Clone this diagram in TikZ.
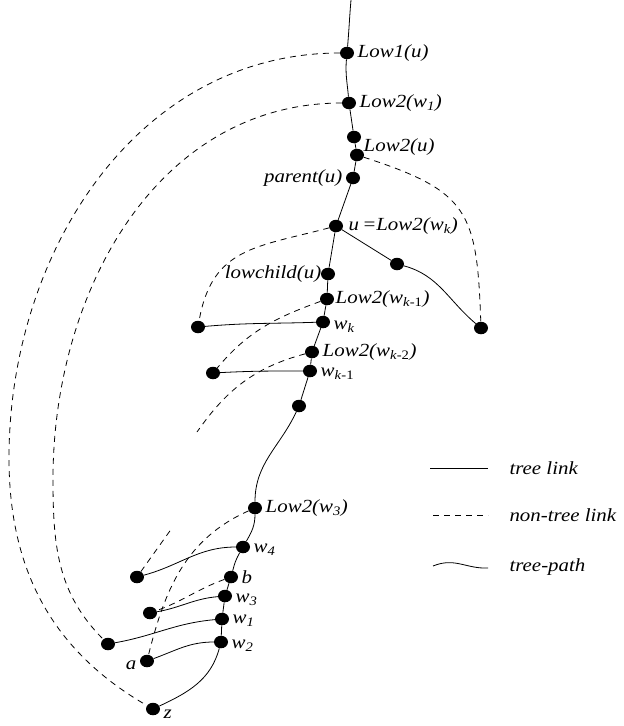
\documentclass[tikz,border=0pt]{standalone}
\usepackage{fontspec}
\setmainfont[FakeStretch=1.13]{Liberation Serif}
\usetikzlibrary{shapes.geometric, positioning}
\newcommand{\lsub}[1]{\textsubscript{#1}}
\tikzset
{%
point/.style={ellipse, fill=black, inner sep=0pt, minimum width=14pt, minimum height=12.5pt},
lab/.style={font=\fontsize{18.5}{21}\selectfont\itshape},
every label/.style={lab},
treelink/.style={line width=0.8pt},
treepath/.style={line width=0.8pt},
nontree/.style={line width=0.8pt, dash pattern=on 6pt off 5pt},
legtext/.style={lab, anchor=west}
}

\begin{document}
\begin{tikzpicture}[x=1pt, y=1pt]
	\useasboundingbox (0,0) rectangle (624,-726);

	% spine
	\coordinate (top) at (351,0);
	\node[point, label=right:{Low1(u)}] (lowone) at (347,-53) {};
	\node[point, label=right:{Low2(w\lsub{1})}] (lowtwowone) at (349,-103) {};
	\node[point] (anc) at (354,-137) {};
	\node[point, label={[yshift=8pt, label distance=-4pt]right:{Low2(u)}}] (lowtwou) at (357,-155) {};
	\node[point, label=left:{parent(u)}] (parent) at (353,-178) {};
	\node[point, label={[label distance=2pt]right:{u\,=Low2(w\lsub{k})}}] (u) at (336,-226) {};
	\node[point] (rmid) at (397,-264) {};
	\node[point] (rend) at (481,-328) {};
	\node[point, label={[label distance=-4pt]left:{lowchild(u)}}] (lowchild) at (328,-274) {};
	\node[point, label={[label distance=-2pt]right:{Low2(w\lsub{k\textup{-1}})}}] (lowtwowkm) at (327,-299) {};
	\node[point, label={[yshift=-5pt]right:{w\lsub{k}}}] (wk) at (323,-322) {};
	\node[point] (lk) at (198,-327) {};
	\node[point, label=right:{Low2(w\lsub{k\textup{-2}})}] (lowtwowkmm) at (312,-352) {};
	\node[point, label={[yshift=-3pt]right:{w\lsub{k\textup{-1}}}}] (wkm) at (310,-371) {};
	\node[point] (lkm) at (213,-373) {};
	\node[point] (mid) at (299,-406) {};
	\node[point, label=right:{Low2(w\lsub{3})}] (lowtwowthree) at (255,-508) {};
	\node[point, label={[yshift=-3pt]right:{w\lsub{4}}}] (wfour) at (243,-547) {};
	\node[point] (lfour) at (137,-577) {};
	\node[point, label=right:{b}] (b) at (231,-577) {};
	\node[point, label={[yshift=-4pt]right:{w\lsub{3}}}] (wthree) at (225,-596) {};
	\node[point] (lthree) at (150,-613) {};
	\node[point, label={[yshift=-2pt]right:{w\lsub{1}}}] (wone) at (222,-619) {};
	\node[point] (lone) at (108,-644) {};
	\node[point, label={[yshift=-4pt]right:{w\lsub{2}}}] (wtwo) at (221,-642) {};
	\node[point, label={[yshift=-4pt]left:{a}}] (a) at (147,-661) {};
	\node[point, label={[yshift=-5pt]right:{z}}] (z) at (153,-709) {};

	\coordinate (outer) at (9,-458);
	\coordinate (inner) at (53,-479);
	\coordinate (wkmmend) at (197,-432);
	\coordinate (lfourend) at (172,-528);

	% tree links and tree paths
	\draw[treepath] (top) to[out=-95, in=85] (lowone) to[out=-95, in=95] (lowtwowone);
	\draw[treelink] (lowtwowone) -- (anc) -- (lowtwou) -- (parent) -- (u) -- (lowchild)
		-- (lowtwowkm) -- (wk) -- (lowtwowkmm) -- (wkm) -- (mid);
	\draw[treelink] (u) -- (rmid);
	\draw[treepath] (rmid) to[out=-15, in=140] (rend);
	\draw[treepath] (mid) to[out=-115, in=90] (lowtwowthree) to[out=-90, in=60] (wfour)
		to[out=-120, in=75] (b) -- (wthree) -- (wone) -- (wtwo) to[out=-105, in=25] (z);
	\draw[treepath] (wk) to[out=182, in=5] (lk);
	\draw[treepath] (wkm) to[out=180, in=3] (lkm);
	\draw[treepath] (wfour) to[out=180, in=15] (lfour);
	\draw[treepath] (wthree) to[out=185, in=10] (lthree);
	\draw[treepath] (wone) to[out=185, in=10] (lone);
	\draw[treepath] (wtwo) to[out=180, in=20] (a);

	% non-tree links
	\draw[nontree] (lowone) to[out=180, in=90] (outer) to[out=-90, in=150] (z);
	\draw[nontree] (lowtwowone) to[out=180, in=90] (inner) to[out=-90, in=135] (lone);
	\draw[nontree] (lowtwou) to[out=-18, in=92, looseness=1.4] (rend);
	\draw[nontree] (u) to[out=195, in=80, looseness=1.2] (lk);
	\draw[nontree] (lowtwowkm) to[out=200, in=50] (lkm);
	\draw[nontree] (lowtwowkmm) to[out=195, in=55] (wkmmend);
	\draw[nontree] (lowtwowthree) to[out=204, in=76] (a);
	\draw[nontree] (b) to[out=200, in=20] (lthree);
	\draw[nontree] (lfour) -- (lfourend);

	% legend
	\coordinate (tlA) at (430,-468);
	\coordinate (tlB) at (488,-468);
	\coordinate (ntA) at (433,-515);
	\coordinate (ntB) at (488,-515);
	\coordinate (tpA) at (433,-566);
	\coordinate (tpB) at (488,-568);
	\draw[treelink] (tlA) -- (tlB);
	\draw[nontree] (ntA) -- (ntB);
	\draw[treepath] (tpA) .. controls (455,-557) and (466,-569) .. (tpB);
	\node[legtext] (tltext) at (506,-468) {tree link};
	\node[legtext] (nttext) at (506,-515) {non-tree link};
	\node[legtext] (tptext) at (506,-567) {tree-path};
\end{tikzpicture}
\end{document}
